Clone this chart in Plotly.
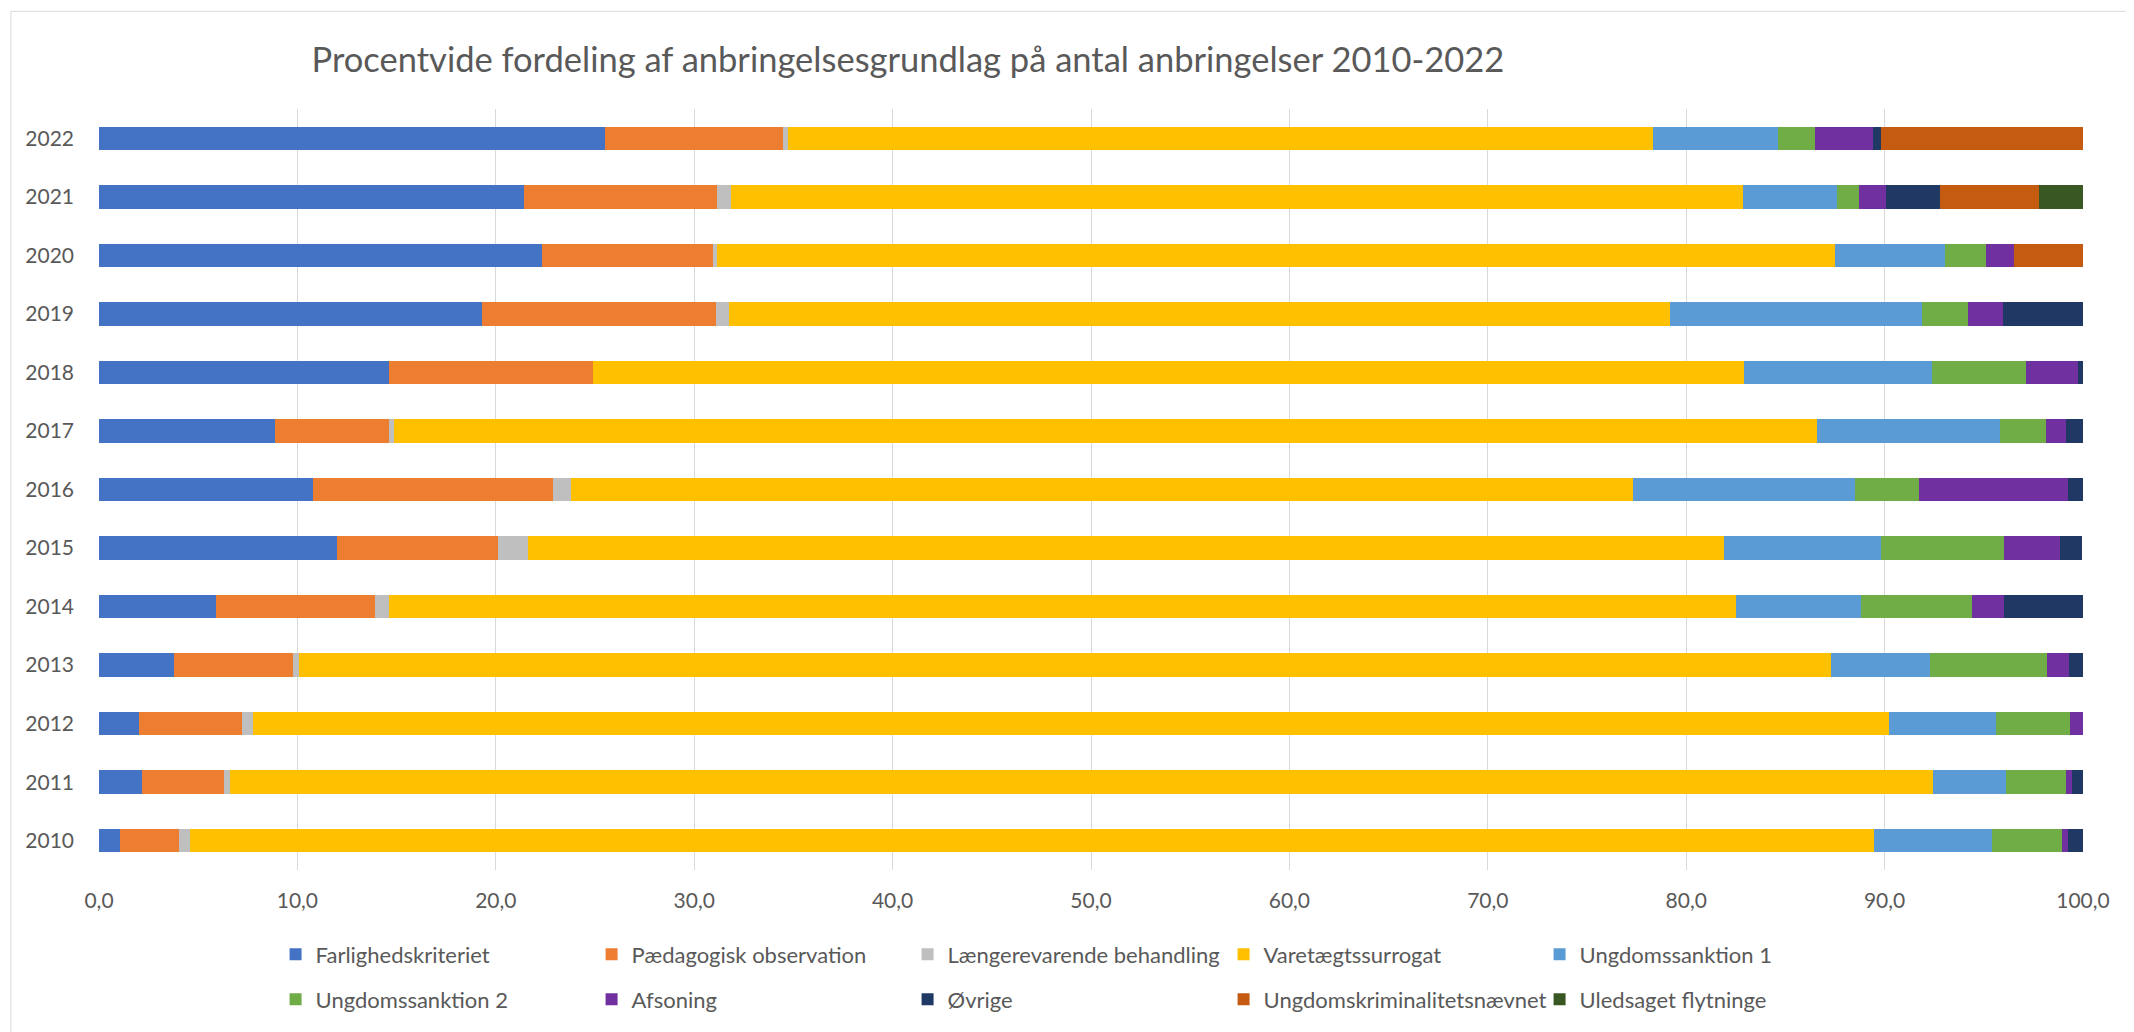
import plotly.graph_objects as go

# År (kategorier på y-aksen), nederst 2010
years = ["2010", "2011", "2012", "2013", "2014", "2015", "2016",
         "2017", "2018", "2019", "2020", "2021", "2022"]

# Procentandele pr. anbringelsesgrundlag
farlighed = [1.08, 2.16, 2.0, 3.78, 5.89, 11.99, 10.78, 8.89, 14.6, 19.3, 22.33, 21.43, 25.51]
paedagogisk = [2.95, 4.14, 5.2, 5.98, 8.01, 8.1, 12.1, 5.71, 10.3, 11.79, 8.61, 9.71, 8.99]
laengere = [0.56, 0.29, 0.58, 0.34, 0.7, 1.51, 0.92, 0.29, 0.0, 0.68, 0.22, 0.69, 0.23]
varetaegt = [84.9, 85.84, 82.44, 77.19, 67.91, 60.3, 53.51, 71.72, 58.0, 47.41, 56.35, 51.03, 43.6]
ungsank1 = [5.94, 3.71, 5.37, 4.98, 6.31, 7.9, 11.18, 9.23, 9.51, 12.68, 5.53, 4.73, 6.32]
ungsank2 = [3.51, 3.02, 3.76, 5.93, 5.59, 6.2, 3.22, 2.28, 4.71, 2.36, 2.06, 1.14, 1.82]
afsoning = [0.3, 0.31, 0.65, 1.09, 1.59, 2.84, 7.51, 1.0, 2.61, 1.74, 1.43, 1.35, 2.92]
oevrige = [0.8, 0.6, 0.0, 0.71, 4.0, 1.1, 0.78, 0.88, 0.27, 4.04, 0.0, 2.7, 0.45]
ukn = [0, 0, 0, 0, 0, 0, 0, 0, 0, 0, 3.47, 5.02, 10.16]
uledsaget = [0, 0, 0, 0, 0, 0, 0, 0, 0, 0, 0, 2.2, 0]

series = [
    ("Farlighedskriteriet", farlighed, "#4472C4", "legend"),
    ("Pædagogisk observation", paedagogisk, "#ED7D31", "legend"),
    ("Længerevarende behandling", laengere, "#BFBFBF", "legend"),
    ("Varetægtssurrogat", varetaegt, "#FFC000", "legend"),
    ("Ungdomssanktion 1", ungsank1, "#5B9BD5", "legend"),
    ("Ungdomssanktion 2", ungsank2, "#70AD47", "legend2"),
    ("Afsoning", afsoning, "#7030A0", "legend2"),
    ("Øvrige", oevrige, "#203864", "legend2"),
    ("Ungdomskriminalitetsnævnet", ukn, "#C55A11", "legend2"),
    ("Uledsaget flytninge", uledsaget, "#385723", "legend2"),
]

FONT = "Lato"
GREY = "#595959"

fig = go.Figure()
for name, vals, color, leg in series:
    fig.add_trace(go.Bar(
        name=name,
        y=years,
        x=vals,
        orientation="h",
        marker=dict(color=color, line=dict(width=0)),
        legend=leg,
        hovertemplate=name + ": %{x:.1f}<extra></extra>",
    ))

# to legender, så hver række får fem poster som i originalen
legend_style = dict(
    orientation="h",
    xanchor="left",
    yanchor="middle",
    x=0.089,
    entrywidth=271,
    entrywidthmode="pixels",
    traceorder="normal",
    font=dict(family=FONT, size=22, color=GREY),
    bgcolor="rgba(0,0,0,0)",
)

# siden har 8 px body-margin, derfor 2126x1024
fig.update_layout(
    barmode="stack",
    bargap=0.6,
    separators=",.",
    width=2126,
    height=1024,
    margin=dict(l=91, r=51, t=101, b=160),
    plot_bgcolor="white",
    paper_bgcolor="white",
    font=dict(family=FONT, color=GREY),
    title=dict(
        text="Procentvide fordeling af anbringelsesgrundlag på antal anbringelser 2010-2022",
        font=dict(family=FONT, size=34.5, color=GREY),
        x=0.4233,
        xanchor="center",
        y=0.949,
        yanchor="middle",
    ),
    xaxis=dict(
        range=[0, 100],
        dtick=10,
        tickformat=".1f",
        showgrid=True,
        gridcolor="#D9D9D9",
        gridwidth=1,
        zeroline=False,
        showline=False,
        ticks="",
        ticklabelstandoff=16,
        tickfont=dict(family=FONT, size=21, color=GREY),
    ),
    yaxis=dict(
        type="category",
        showgrid=False,
        zeroline=False,
        showline=False,
        ticks="",
        ticklabelstandoff=24,
        tickfont=dict(family=FONT, size=21, color=GREY),
    ),
    legend=dict(legend_style, y=-0.111),
    legend2=dict(legend_style, y=-0.170),
    showlegend=True,
    shapes=[dict(
        type="rect", xref="paper", yref="paper",
        x0=-0.0444, x1=1.03, y0=-0.3, y1=1.1284,
        line=dict(color="#D9D9D9", width=1),
        fillcolor="rgba(0,0,0,0)",
        layer="below",
    )],
)

fig.write_html("out.html")
